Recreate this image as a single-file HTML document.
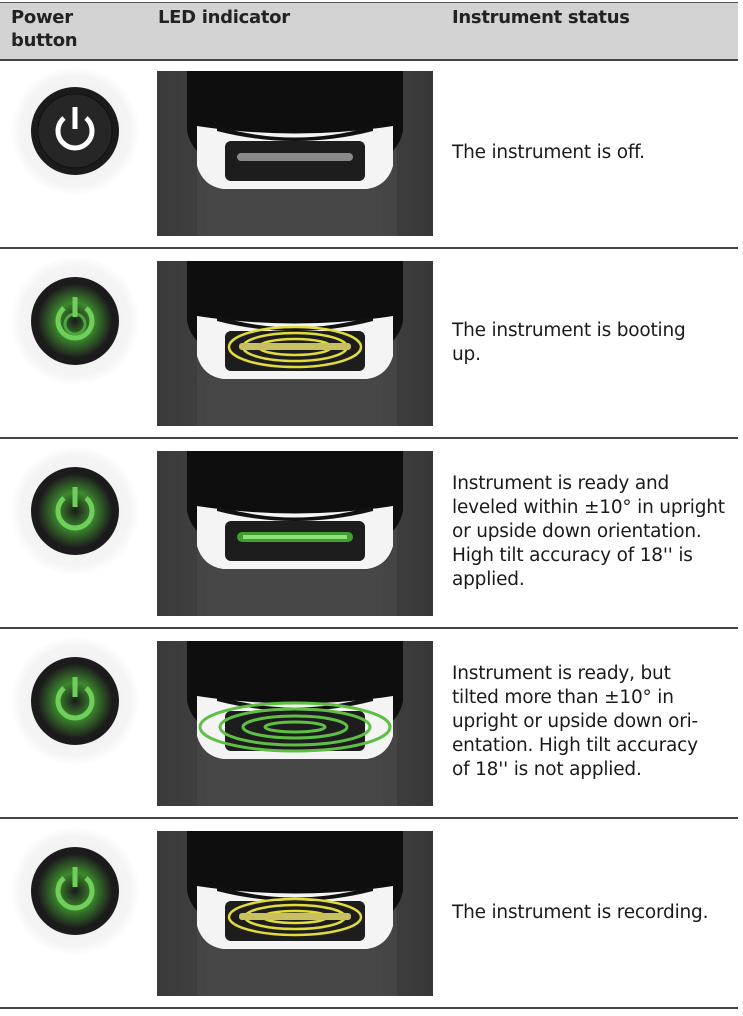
<!DOCTYPE html>
<html><head><meta charset="utf-8">
<style>
body{margin:0;width:743px;height:1016px;background:#fff;position:relative;overflow:hidden;font-family:"DejaVu Sans","Liberation Sans",sans-serif;color:#1a1a1a}
.hdr{position:absolute;left:0;top:2px;width:738px;height:56px;background:#d3d3d3;border-top:1px solid #555;border-bottom:2px solid #444}
.h{position:absolute;font-weight:bold;font-size:18px;line-height:23px;color:#222;letter-spacing:-0.3px}
.line{position:absolute;left:0;width:738px;height:2px;background:#444}
.t{position:absolute;left:452px;font-size:18.5px;line-height:24px;white-space:nowrap;letter-spacing:-0.2px}
.img{position:absolute;left:157px;width:276px;height:165px}
.btn{position:absolute;left:31px;width:88px;height:88px}
.halo{position:absolute;left:11px;width:128px;height:128px;border-radius:50%;background:radial-gradient(circle,#eee 0%,#f4f4f4 60%,#fff 72%)}
</style></head><body>
<div class="hdr"></div>
<div class="h" style="left:11px;top:6px">Power<br>button</div>
<div class="h" style="left:158px;top:6px">LED indicator</div>
<div class="h" style="left:452px;top:6px">Instrument status</div>

<div class="line" style="top:247px"></div>
<div class="line" style="top:437px"></div>
<div class="line" style="top:627px"></div>
<div class="line" style="top:817px"></div>
<div class="line" style="top:1007px"></div>

<svg width="0" height="0" style="position:absolute">
<defs>
<linearGradient id="body" x1="0" x2="1"><stop offset="0" stop-color="#3a3a3a"/><stop offset="0.5" stop-color="#4a4a4a"/><stop offset="1" stop-color="#383838"/></linearGradient>
<radialGradient id="glow"><stop offset="0" stop-color="#1a1a1a"/><stop offset="0.5" stop-color="#3d8a2e"/><stop offset="1" stop-color="#1d1d1d"/></radialGradient>
<symbol id="dev" viewBox="0 0 276 165">
<rect width="276" height="165" fill="url(#body)"/>
<rect x="40" y="0" width="200" height="165" fill="#454545"/>
<path d="M30 0 H246 V60 Q240 90 200 95 H76 Q36 90 30 60 Z" fill="#0e0e0e"/>
<path d="M40 55 H236 V95 Q230 115 210 118 H66 Q46 115 40 95Z" fill="#f4f4f4"/>
<path d="M40 0 H236 V55 Q138 70 40 55Z" fill="#0e0e0e"/>
<path d="M60 55 Q138 78 216 55 V60 Q138 80 60 60Z" fill="#111"/>
<rect x="68" y="70" width="140" height="40" rx="6" fill="#1d1d1d"/>
<rect x="50" y="118" width="176" height="47" fill="#474747"/>
</symbol>
</defs></svg>

<div class="halo" style="top:67px"></div>
<div class="halo" style="top:257px"></div>
<div class="halo" style="top:447px"></div>
<div class="halo" style="top:637px"></div>
<div class="halo" style="top:827px"></div>

<!-- row 1 -->
<svg class="btn" style="top:87px" viewBox="0 0 88 88"><circle cx="44" cy="44" r="44" fill="#1b1b1b"/><circle cx="44" cy="44" r="37" fill="#262626" stroke="#111" stroke-width="1"/><path d="M33 31 A17 17 0 1 0 55 31" fill="none" stroke="#fff" stroke-width="5"/><rect x="41.5" y="20" width="5" height="22" fill="#fff"/></svg>
<svg class="img" style="top:71px" viewBox="0 0 276 165"><use href="#dev"/><rect x="80" y="82" width="116" height="8" rx="4" fill="#8a8a8a"/></svg>
<div class="t" style="top:141px">The instrument is off.</div>

<!-- row 2 -->
<svg class="btn" style="top:277px" viewBox="0 0 88 88"><circle cx="44" cy="44" r="44" fill="#1b1b1b"/><circle cx="44" cy="44" r="37" fill="url(#glow)"/><path d="M33 31 A17 17 0 1 0 55 31" fill="none" stroke="#6fcf5a" stroke-width="5"/><circle cx="44" cy="47" r="10" fill="none" stroke="#4aa63a" stroke-width="3"/><rect x="41.5" y="20" width="5" height="20" fill="#6fcf5a"/></svg>
<svg class="img" style="top:261px" viewBox="0 0 276 165"><use href="#dev"/><g fill="none" stroke="#e2dc3a" stroke-width="2.5"><ellipse cx="138" cy="86" rx="66" ry="20"/><ellipse cx="138" cy="86" rx="52" ry="14"/><ellipse cx="138" cy="86" rx="36" ry="8"/></g><rect x="82" y="82" width="112" height="7" rx="3" fill="#c8c060"/></svg>
<div class="t" style="top:319px">The instrument is booting<br>up.</div>

<!-- row 3 -->
<svg class="btn" style="top:467px" viewBox="0 0 88 88"><circle cx="44" cy="44" r="44" fill="#1b1b1b"/><circle cx="44" cy="44" r="37" fill="url(#glow)"/><path d="M33 31 A17 17 0 1 0 55 31" fill="none" stroke="#6fcf5a" stroke-width="5"/><rect x="41.5" y="20" width="5" height="20" fill="#6fcf5a"/></svg>
<svg class="img" style="top:451px" viewBox="0 0 276 165"><use href="#dev"/><rect x="80" y="81" width="116" height="10" rx="5" fill="#3fa030"/><rect x="86" y="84" width="104" height="4" fill="#8fe07a"/></svg>
<div class="t" style="top:472px">Instrument is ready and<br>leveled within ±10° in upright<br>or upside down orientation.<br>High tilt accuracy of 18'' is<br>applied.</div>

<!-- row 4 -->
<svg class="btn" style="top:657px" viewBox="0 0 88 88"><circle cx="44" cy="44" r="44" fill="#1b1b1b"/><circle cx="44" cy="44" r="37" fill="url(#glow)"/><path d="M33 31 A17 17 0 1 0 55 31" fill="none" stroke="#6fcf5a" stroke-width="5"/><rect x="41.5" y="20" width="5" height="20" fill="#6fcf5a"/></svg>
<svg class="img" style="top:641px" viewBox="0 0 276 165"><use href="#dev"/><g fill="none" stroke="#5fbf45" stroke-width="3"><ellipse cx="138" cy="86" rx="95" ry="24"/><ellipse cx="138" cy="86" rx="75" ry="18"/><ellipse cx="138" cy="86" rx="52" ry="11"/><ellipse cx="138" cy="86" rx="30" ry="5"/></g></svg>
<div class="t" style="top:662px">Instrument is ready, but<br>tilted more than ±10° in<br>upright or upside down ori-<br>entation. High tilt accuracy<br>of 18'' is not applied.</div>

<!-- row 5 -->
<svg class="btn" style="top:847px" viewBox="0 0 88 88"><circle cx="44" cy="44" r="44" fill="#1b1b1b"/><circle cx="44" cy="44" r="37" fill="url(#glow)"/><path d="M33 31 A17 17 0 1 0 55 31" fill="none" stroke="#6fcf5a" stroke-width="5"/><rect x="41.5" y="20" width="5" height="20" fill="#6fcf5a"/></svg>
<svg class="img" style="top:831px" viewBox="0 0 276 165"><use href="#dev"/><g fill="none" stroke="#e2dc3a" stroke-width="2.5"><ellipse cx="138" cy="86" rx="66" ry="18"/><ellipse cx="138" cy="86" rx="50" ry="12"/><ellipse cx="138" cy="86" rx="32" ry="6"/></g><rect x="82" y="82" width="112" height="7" rx="3" fill="#c8c060"/></svg>
<div class="t" style="top:901px">The instrument is recording.</div>
</body></html>
